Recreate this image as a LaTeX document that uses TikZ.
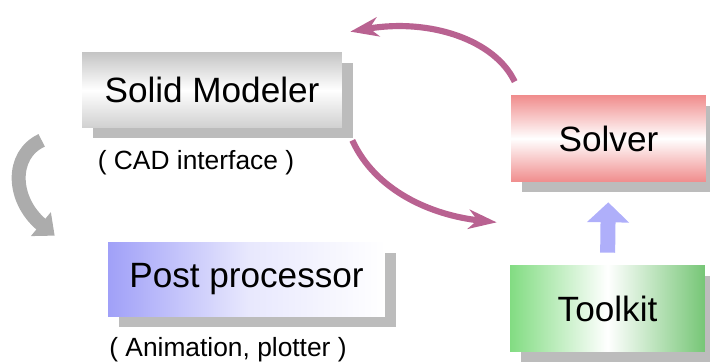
\documentclass[tikz,border=0pt]{standalone}
\usepackage{fontspec}
\setmainfont{Liberation Sans}
\usetikzlibrary{arrows.meta,shadows}
\definecolor{shadowgray}{RGB}{188,188,188}
\definecolor{smgray}{RGB}{196,196,196}
\definecolor{svred}{RGB}{240,140,140}
\definecolor{ppblue}{RGB}{160,160,248}
\definecolor{tkgreen}{RGB}{130,220,130}
\definecolor{tkgreendark}{RGB}{118,198,118}
\definecolor{cycpink}{RGB}{185,98,145}
\definecolor{uplav}{RGB}{175,175,250}
\definecolor{leftgray}{RGB}{172,172,172}
\tikzset{
  box/.style={inner sep=0pt, minimum width=3.9cm, minimum height=1.74cm,
    font=\fontsize{20}{24}\selectfont,
    drop shadow={shadow xshift=0.22cm, shadow yshift=-0.21cm, fill=shadowgray, opacity=1}},
  note/.style={font=\fontsize{15}{18}\selectfont},
  cyc/.style={draw=cycpink, line width=3.5pt, -{Stealth[length=16pt,width=11pt,inset=5pt]}},
  upflow/.style={draw=uplav, line width=0.3cm, -{Triangle[width=0.82cm,length=0.4cm]}},
  sideflow/.style={draw=leftgray, line width=0.28cm, -{Triangle[width=0.6cm,length=0.36cm]}}
}
\begin{document}
\begin{tikzpicture}[x=0.02cm,y=-0.02cm]
  \useasboundingbox (0,0) rectangle (710,362);
  \draw
    (212,90) node[box, minimum width=5.2cm, minimum height=1.52cm,
      top color=smgray, bottom color=smgray!80, middle color=white] (sm){Solid Modeler}
    (608.5,138.5) node[box, top color=svred, bottom color=svred, middle color=white] (sv){Solver}
    (246.5,279.5) node[box, minimum width=5.54cm, minimum height=1.5cm,
      left color=ppblue, right color=white, middle color=ppblue!25] (pp){Post processor}
    (607.5,308.5) node[box, left color=tkgreen, right color=tkgreendark, middle color=white] (tk){Toolkit}
    (196,163) node[note] (cad){( CAD interface )}
    (228,350) node[note] (anim){( Animation, plotter )};
  \coordinate (svtail) at ([shift={(4,-13)}]sv.north west);
  \coordinate (smhead) at ([shift={(8,-20)}]sm.north east);
  \coordinate (smtail) at ([shift={(10,12)}]sm.south east);
  \coordinate (svhead) at ([shift={(-14,40)}]sv.south west);
  \coordinate (sidetail) at ([shift={(-40,12)}]sm.south west);
  \coordinate (sidehead) at ([shift={(-53,-6)}]pp.north west);
  \draw[cyc] (svtail) .. controls (495,40) and (430,18) .. (smhead);
  \draw[cyc] (smtail) .. controls (375,190) and (430,215) .. (svhead);
  \draw[sideflow] (sidetail) .. controls (10,155) and (12,200) .. (sidehead);
  \draw[upflow, shorten <=0.24cm, shorten >=0.4cm] (tk.north) -- (sv.south);
\end{tikzpicture}
\end{document}
